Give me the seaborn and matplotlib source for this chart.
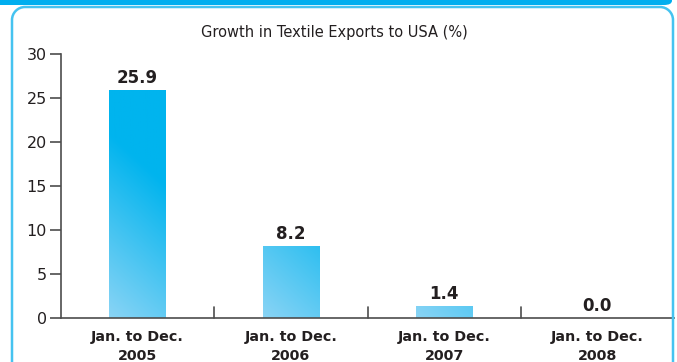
import numpy as np
import pandas as pd
import matplotlib
matplotlib.use("Agg")
import matplotlib.pyplot as plt
import seaborn as sns
from matplotlib.patches import FancyBboxPatch, PathPatch
from matplotlib.path import Path
from matplotlib.colors import to_rgb

categories = ["Jan. to Dec.\n2005", "Jan. to Dec.\n2006", "Jan. to Dec.\n2007", "Jan. to Dec.\n2008"]
growth = [25.9, 8.2, 1.4, 0.0]
value_labels = ["25.9", "8.2", "1.4", "0.0"]
y_ticks = [0, 5, 10, 15, 20, 25, 30]
title = "Growth in Textile Exports to USA (%)"

sns.set_theme(style="white")
plt.rcParams["font.family"] = ["DejaVu Sans"]

W, H = 677, 362
fig = plt.figure(figsize=(W / 100, H / 100), dpi=100)
fig.patch.set_facecolor("white")


def fx(px):
    return px / W


def fy(py):
    return 1 - py / H


# blue band along the top edge
band = FancyBboxPatch((fx(-20), fy(5)), fx(692), 30 / H,
                      boxstyle="round,pad=0,rounding_size=0.012",
                      transform=fig.transFigure, facecolor="#00aeef",
                      edgecolor="none", zorder=0)
fig.patches.append(band)

# open-bottomed rounded outline
L, R, T, r = 12, 673, 7, 13
k = 0.5523 * r
verts = [(L, H + 5), (L, T + r),
         (L, T + r - k), (L + r - k, T), (L + r, T),
         (R - r, T),
         (R - r + k, T), (R, T + r - k), (R, T + r),
         (R, H + 5)]
codes = [Path.MOVETO, Path.LINETO,
         Path.CURVE4, Path.CURVE4, Path.CURVE4,
         Path.LINETO,
         Path.CURVE4, Path.CURVE4, Path.CURVE4,
         Path.LINETO]
outline = PathPatch(Path([(fx(x), fy(y)) for x, y in verts], codes),
                    transform=fig.transFigure, facecolor="none",
                    edgecolor="#45c3f0", linewidth=1.8, zorder=0)
fig.patches.append(outline)

ax = fig.add_axes([fx(61), 44 / H, fx(613), 264 / H])
ax.set_facecolor("none")

df = pd.DataFrame({"period": categories, "growth": growth})
sns.barplot(data=df, x="period", y="growth", ax=ax, width=0.37,
            color="#00b4ee", saturation=1, errorbar=None)

ax.set_xlim(-0.5, 3.5)
ax.set_ylim(0, 30)

# diagonal gradient fill, light at the bottom-left, measured in pixels
dark = np.array(to_rgb("#00b4ee"))
light = np.array(to_rgb("#8ad4f5"))
px_per_x = 613 / 4.0
px_per_y = 264 / 30.0
span = 185.0
for bar in list(ax.patches):
    x0, y0 = bar.get_x(), bar.get_y()
    w, h = bar.get_width(), bar.get_height()
    if h <= 0:
        continue
    nx = 80
    ny = max(int(h * px_per_y), 2)
    xs = np.linspace(0, w * px_per_x, nx)
    ys = np.linspace(h * px_per_y, 0, ny)
    gx, gy = np.meshgrid(xs, ys)
    wgt = np.clip(1 - (0.9 * gx + gy) / span, 0, 1)
    img = dark[None, None, :] * (1 - wgt[..., None]) + light[None, None, :] * wgt[..., None]
    im = ax.imshow(img, extent=(x0, x0 + w, y0, y0 + h), aspect="auto",
                   origin="upper", zorder=bar.get_zorder())
    im.set_clip_path(bar)
    bar.set_facecolor("none")
    bar.set_edgecolor("none")
ax.set_xlim(-0.5, 3.5)
ax.set_ylim(0, 30)

for i, (val, lab) in enumerate(zip(growth, value_labels)):
    ax.text(i, val + 0.3, lab, ha="center", va="bottom", fontsize=12,
            fontweight="bold", color="#231f20")

fig.text(fx(334), fy(32), title, ha="center", va="center", fontsize=10.5,
         color="#231f20")
ax.set_xlabel("")
ax.set_ylabel("")

ax.set_yticks(y_ticks)
ax.set_yticklabels([str(t) for t in y_ticks], fontsize=11.5, color="#231f20")
ax.tick_params(axis="y", direction="out", length=8, width=1.2, color="#4d4d4d", pad=2, left=True)

ax.set_xticks([0, 1, 2, 3])
ax.set_xticklabels(categories, fontsize=10.3, fontweight="bold", color="#231f20", linespacing=1.45)
ax.tick_params(axis="x", length=0, pad=9)
for b in [0.5, 1.5, 2.5]:
    ax.plot([b, b], [0, 1.25], color="#4d4d4d", lw=1.2, clip_on=False, zorder=5)

for s in ["top", "right"]:
    ax.spines[s].set_visible(False)
for s in ["left", "bottom"]:
    ax.spines[s].set_color("#4d4d4d")
    ax.spines[s].set_linewidth(1.2)

fig.savefig("out.png", dpi=100, facecolor="white")
